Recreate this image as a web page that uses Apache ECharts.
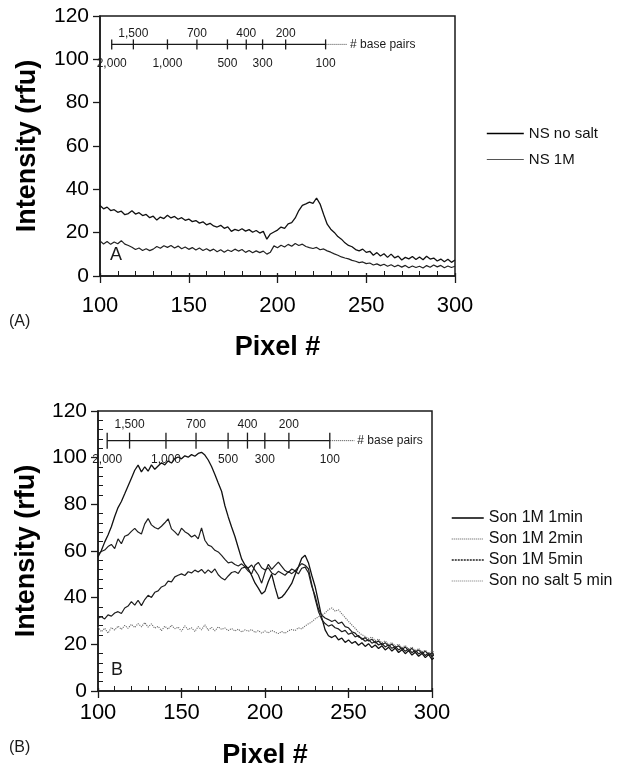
<!DOCTYPE html>
<html>
<head>
<meta charset="utf-8">
<script src="https://cdn.jsdelivr.net/npm/echarts@6/dist/echarts.min.js"></script>
<style>
html,body{margin:0;padding:0;background:#fff;}
#chart{width:617px;height:770px;}
</style>
</head>
<body>
<div id="chart"></div>
<script>
// 荧光强度 vs 像素位置 (A: 非超声, B: 超声)
var FONT = 'Liberation Sans, Arial, sans-serif';
var INK = '#1a1a1a';

// panel A: pixel 100..300, step 2
var pixelStartA = 100, pixelStepA = 2;
var nsNoSalt = [32.5,31.0,31.8,30.2,30.6,29.4,29.9,28.3,28.8,30.1,28.6,29.2,27.9,28.4,26.9,27.6,25.8,27.2,26.5,28.0,
  26.8,27.5,26.2,26.9,25.7,26.3,25.1,25.6,24.4,25.0,23.6,24.3,23.1,22.6,23.4,22.0,22.7,20.6,21.5,20.9,
  21.8,20.7,21.4,20.2,21.0,19.8,20.6,17.0,19.4,20.3,21.2,22.6,22.0,24.1,24.6,26.8,30.2,32.6,33.3,34.1,
  33.5,36.0,33.2,28.4,23.9,21.6,20.1,18.2,17.0,15.3,14.1,13.5,12.2,11.6,12.4,10.9,11.4,9.6,10.8,9.2,
  10.3,8.6,10.1,8.4,9.2,7.4,8.6,7.9,9.0,7.6,8.8,7.5,9.1,7.8,8.3,6.9,7.8,6.6,7.7,6.3,7.4];
var ns1M = [16.2,14.8,15.9,14.6,15.7,14.9,16.3,14.7,14.1,13.3,12.2,12.9,11.8,12.6,11.7,12.4,13.6,12.8,14.0,13.2,
  14.1,12.9,13.8,12.6,13.4,12.3,13.1,12.0,12.9,11.8,12.6,11.6,12.4,11.2,12.1,11.0,12.0,11.3,12.4,11.5,
  12.2,10.9,11.8,10.7,11.6,10.8,11.5,10.1,11.0,13.9,13.0,14.2,13.4,14.6,13.7,15.0,14.1,14.7,13.6,13.1,
  12.7,13.2,12.1,12.5,11.6,11.0,10.2,9.6,8.8,8.3,7.9,7.2,6.8,6.2,6.5,5.7,6.0,5.1,5.6,4.8,
  5.4,4.5,5.2,4.3,5.0,4.1,4.9,3.8,4.6,3.9,4.5,3.7,4.8,4.0,5.1,4.2,4.9,3.8,4.6,3.9,4.5];

// panel B: pixel 100..302, step 2
var pixelStartB = 100, pixelStepB = 2;
var son1min = [57.5,60.2,63.8,66.9,70.4,74.8,78.6,81.2,84.5,87.9,91.2,94.6,96.8,93.9,96.1,94.2,96.9,95.0,96.4,97.8,
  96.9,98.6,97.7,99.6,100.3,99.5,100.8,100.2,101.3,100.6,101.8,102.3,101.1,99.0,96.2,92.8,89.1,85.6,79.4,74.6,
  70.3,66.2,61.4,56.6,54.0,52.4,49.5,46.3,44.1,41.6,42.8,46.9,50.1,44.5,39.6,40.2,41.8,43.9,46.1,49.8,
  53.1,56.9,58.2,55.0,49.6,44.8,38.3,31.4,26.2,23.7,22.9,23.8,21.9,22.7,20.8,21.9,20.4,21.2,19.6,20.7,
  19.1,20.3,18.6,19.7,18.2,19.4,17.6,18.8,17.1,18.4,16.5,17.7,16.0,17.3,15.4,16.6,14.9,16.1,14.3,15.6,13.5,14.6];
var son2min = [58.6,59.8,60.4,61.9,62.8,61.0,65.2,63.1,66.3,66.9,68.4,69.7,68.1,67.3,71.6,73.9,71.2,70.1,69.4,70.6,
  72.1,73.8,69.5,68.2,66.7,69.8,68.3,67.4,66.0,66.8,65.2,69.9,64.6,62.5,61.9,60.3,59.6,58.1,56.4,54.9,
  55.3,54.2,53.6,54.5,53.2,52.7,54.0,51.8,49.7,46.2,50.9,54.3,52.1,53.7,55.2,53.4,51.6,50.8,52.3,51.5,
  53.2,54.6,53.9,52.4,45.7,39.6,34.1,30.6,28.9,27.8,28.4,27.1,26.6,25.4,26.0,24.3,24.9,23.2,23.8,22.1,
  22.9,21.4,22.2,20.6,21.5,19.8,20.7,19.2,20.1,18.6,19.4,17.8,18.9,17.2,18.3,16.7,17.6,16.0,17.1,15.5,16.4,15.2];
var son5min = [31.2,31.8,30.9,32.6,32.1,33.4,34.0,33.2,35.6,36.4,38.3,36.8,38.9,36.6,39.2,41.0,40.1,42.3,42.9,44.6,
  45.2,47.1,46.8,48.9,49.6,50.2,49.5,51.1,50.6,51.8,51.0,52.1,50.4,51.9,50.7,52.3,49.8,48.4,47.6,49.3,
  50.8,51.2,50.4,52.6,53.1,51.4,50.2,53.9,55.1,52.8,51.9,52.8,50.6,49.8,51.3,50.5,49.6,51.2,50.3,51.4,
  50.2,52.6,53.1,50.7,44.9,40.8,35.2,32.5,31.3,30.6,29.8,30.4,28.9,29.5,27.6,27.1,25.4,24.8,23.2,22.6,
  21.3,22.0,20.5,21.2,19.7,20.4,18.9,19.8,18.3,19.1,17.6,18.5,17.0,18.1,16.4,17.5,15.9,16.8,15.2,16.3,14.8,15.9];
var sonNoSalt = [27.5,25.4,26.9,24.8,27.2,26.1,27.8,26.4,28.1,26.9,28.6,27.2,28.9,27.5,29.3,27.4,28.8,26.9,27.7,25.9,
  27.8,26.5,28.2,26.7,27.4,25.6,27.9,26.3,27.1,25.5,27.6,26.2,28.4,26.0,27.3,25.8,27.5,26.4,27.0,25.9,
  26.8,25.7,26.5,25.3,26.2,25.6,26.4,25.1,25.9,24.8,25.7,24.9,26.0,25.2,24.6,25.5,24.7,25.8,26.4,25.9,
  27.1,26.6,27.9,28.8,29.6,30.9,31.8,32.6,33.4,34.9,35.6,34.2,34.8,33.1,31.5,29.8,28.3,26.9,25.2,24.1,
  23.4,22.5,23.1,21.6,22.3,20.7,21.5,19.9,20.8,19.2,20.1,18.6,19.5,17.9,18.8,17.3,18.2,16.8,17.5,16.1,17.0,16.4];

// base pair ruler (pixel position of each size)
var rulerLabels = ['2,000','1,500','1,000','700','500','400','300','200','100'];
var rulerSide = ['below','above','below','above','below','above','below','above','below'];
var rulerPixA = [106.6,118.8,138.0,154.6,171.8,182.4,191.6,204.6,227.1];
var rulerPixB = [105.5,118.9,140.7,158.7,177.9,189.5,199.9,214.3,238.8];
var rulerLevelA = 106.9, rulerEndA = 239.2;
var rulerLevelB = 107.3, rulerEndB = 253.5;

function pairs(x0, step, vals) {
    return vals.map(function(v, i){ return [x0 + i * step, v]; });
}

function rulerSeries(gi, pos, level, half, upOff, downOff) {
    return {
        type: 'custom', xAxisIndex: gi * 2, yAxisIndex: gi * 2, clip: false, silent: true, z: 5,
        data: pos.map(function(x, i){ return [x, i]; }),
        renderItem: function(params, api) {
            var i = params.dataIndex;
            var p = api.coord([api.value(0), level]);
            var up = rulerSide[i] === 'above';
            return { type: 'group', children: [
                { type: 'line', shape: { x1: p[0], y1: p[1] - half, x2: p[0], y2: p[1] + half },
                  style: { stroke: INK, lineWidth: 1.3 } },
                { type: 'text', x: p[0], y: up ? p[1] - upOff : p[1] + downOff,
                  style: { text: rulerLabels[i], fill: INK, font: '12px ' + FONT, align: 'center', verticalAlign: 'middle' } }
            ]};
        }
    };
}

function rulerLines(gi, pos, level, end) {
    return [{
        type: 'line', xAxisIndex: gi * 2, yAxisIndex: gi * 2, symbol: 'none', silent: true, clip: false,
        data: [[pos[0], level], [pos[pos.length - 1], level]],
        lineStyle: { color: INK, width: 1.2 }
    }, {
        type: 'line', xAxisIndex: gi * 2, yAxisIndex: gi * 2, symbol: 'none', silent: true, clip: false,
        data: [[pos[pos.length - 1], level], [end, level]],
        lineStyle: { color: '#444', width: 1, type: 'dotted' },
        endLabel: { show: true, formatter: '# base pairs', color: INK, fontSize: 12, fontFamily: FONT, distance: 3 }
    }];
}

function xAxes(gi, nameGap, labelMargin, labelSize) {
    return [{
        type: 'value', gridIndex: gi, min: 100, max: 300, interval: 50, position: 'bottom',
        name: 'Pixel #', nameLocation: 'middle', nameGap: nameGap,
        nameTextStyle: { fontSize: 27, fontWeight: 'bold', color: '#000', fontFamily: FONT },
        axisLine: { onZero: false, lineStyle: { color: INK, width: 1.5 } },
        axisTick: { length: 7, lineStyle: { color: INK, width: 1.3 } },
        axisLabel: { fontSize: labelSize, color: '#000', fontFamily: FONT, margin: labelMargin },
        splitLine: { show: false }
    }, {
        type: 'value', gridIndex: gi, min: 100, max: 300, interval: 50, position: 'bottom',
        axisLine: { show: false, onZero: false },
        axisTick: { show: true, inside: true, length: 3, lineStyle: { color: INK, width: 1.3 } },
        minorTick: { show: true, splitNumber: 5, length: 5, lineStyle: { color: INK, width: 1 } },
        axisLabel: { show: false }, splitLine: { show: false }
    }];
}

function yAxes(gi, nameGap, minor) {
    return [{
        type: 'value', gridIndex: gi, min: 0, max: 120, interval: 20, position: 'left',
        name: 'Intensity (rfu)', nameLocation: 'middle', nameGap: nameGap,
        nameTextStyle: { fontSize: 27, fontWeight: 'bold', color: '#000', fontFamily: FONT },
        axisLine: { show: true, lineStyle: { color: INK, width: 1.5 } },
        axisTick: { show: true, length: 7, lineStyle: { color: INK, width: 1.3 } },
        axisLabel: { fontSize: 21, color: '#000', fontFamily: FONT, margin: 11 },
        splitLine: { show: false }
    }, {
        type: 'value', gridIndex: gi, min: 0, max: 120, interval: 20, position: 'left',
        axisLine: { show: false },
        axisTick: { show: false, inside: true },
        minorTick: { show: minor, splitNumber: 5, length: 5, lineStyle: { color: INK, width: 1 } },
        axisLabel: { show: false }, splitLine: { show: false }
    }];
}

function trace(name, gi, x0, step, vals, style) {
    return {
        name: name, type: 'line', xAxisIndex: gi * 2, yAxisIndex: gi * 2, symbol: 'none',
        clip: false, data: pairs(x0, step, vals), lineStyle: style,
        itemStyle: { color: style.color }
    };
}

function legendItem(name, style) {
    return { name: name, lineStyle: style, itemStyle: { color: 'rgba(0,0,0,0)', borderWidth: 0, opacity: 0 } };
}

var myChart = echarts.init(document.getElementById('chart'), null, { renderer: 'canvas' });
var option = {
    animation: false,
    backgroundColor: '#fff',
    textStyle: { fontFamily: FONT },
    grid: [
        { left: 100, top: 16, width: 355, height: 260, show: true, borderColor: INK, borderWidth: 1.5 },
        { left: 98, top: 411, width: 334, height: 283, show: true, borderColor: INK, borderWidth: 1.5 }
    ],
    xAxis: xAxes(0, 58, 19, 22).concat(xAxes(1, 51, 11, 22)),
    yAxis: yAxes(0, 59, false).concat(yAxes(1, 58, true)),
    legend: [{
        orient: 'vertical', left: 481, top: 121, itemWidth: 37, itemHeight: 12, itemGap: 11,
        textStyle: { fontSize: 15, color: '#111', fontFamily: FONT },
        data: [
            legendItem('NS no salt', { color: '#000', width: 1.6 }),
            legendItem('NS 1M', { color: '#555', width: 1 })
        ]
    }, {
        orient: 'vertical', left: 446, top: 505, itemWidth: 32, itemHeight: 12, itemGap: 5,
        textStyle: { fontSize: 16, color: '#111', fontFamily: FONT },
        data: [
            legendItem('Son 1M 1min', { color: '#000', width: 1.5 }),
            legendItem('Son 1M 2min', { color: '#555', width: 1, type: 'dotted' }),
            legendItem('Son 1M 5min', { color: '#222', width: 1.3, type: [2, 1] }),
            legendItem('Son no salt 5 min', { color: '#777', width: 1, type: 'dotted' })
        ]
    }],
    graphic: [
        { type: 'text', left: 110, top: 246, style: { text: 'A', font: '18px ' + FONT, fill: INK } },
        { type: 'text', left: 111, top: 661, style: { text: 'B', font: '18px ' + FONT, fill: INK } },
        { type: 'text', left: 9, top: 314, style: { text: '(A)', font: '16px ' + FONT, fill: INK } },
        { type: 'text', left: 9, top: 740, style: { text: '(B)', font: '16px ' + FONT, fill: INK } }
    ],
    series: [
        trace('NS no salt', 0, pixelStartA, pixelStepA, nsNoSalt, { color: '#111', width: 1.3 }),
        trace('NS 1M', 0, pixelStartA, pixelStepA, ns1M, { color: '#222', width: 1.2 }),
        trace('Son 1M 1min', 1, pixelStartB, pixelStepB, son1min, { color: '#111', width: 1.3 }),
        trace('Son 1M 2min', 1, pixelStartB, pixelStepB, son2min, { color: '#1e1e1e', width: 1.2 }),
        trace('Son 1M 5min', 1, pixelStartB, pixelStepB, son5min, { color: '#1e1e1e', width: 1.2 }),
        trace('Son no salt 5 min', 1, pixelStartB, pixelStepB, sonNoSalt, { color: '#666', width: 1.1, type: 'dotted' }),
        rulerSeries(0, rulerPixA, rulerLevelA, 5, 11, 19),
        rulerSeries(1, rulerPixB, rulerLevelB, 8, 16, 19)
    ].concat(rulerLines(0, rulerPixA, rulerLevelA, rulerEndA)).concat(rulerLines(1, rulerPixB, rulerLevelB, rulerEndB))
};
myChart.setOption(option);
window.addEventListener('resize', function() {
    myChart.resize();
});
</script>
</body>
</html>
